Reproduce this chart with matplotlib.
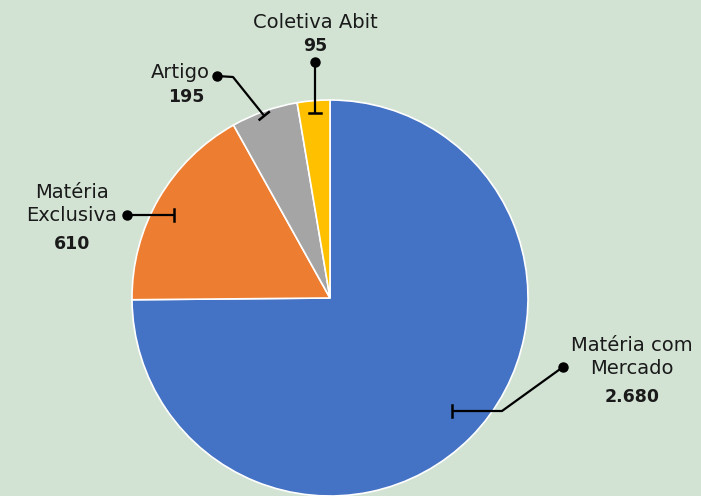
import matplotlib.pyplot as plt
import numpy as np

# Data
categories = ['Matéria com\nMercado', 'Matéria\nExclusiva', 'Artigo', 'Coletiva Abit']
values = [2680, 610, 195, 95]
value_labels = ['2.680', '610', '195', '95']
colors = ['#4472C4', '#ED7D31', '#A5A5A5', '#FFC000']

plt.rcParams['font.family'] = 'DejaVu Sans'

W, H = 701, 496
cx, cy, R = 330, 298, 198  # pie centre / radius in pixels


def px(x, y):
    # pixel position -> data units (pie radius = 1)
    return (x - cx) / R, (cy - y) / R


fig = plt.figure(figsize=(W / 100, H / 100), dpi=100)
fig.patch.set_facecolor('#D2E3D4')
ax = fig.add_axes([0, 0, 1, 1])
ax.set_facecolor('#D2E3D4')

wedges, _ = ax.pie(values, startangle=90, counterclock=False, colors=colors,
                   radius=1, center=(0, 0),
                   wedgeprops=dict(edgecolor='white', linewidth=1.2))

x0, y0 = px(0, H)
x1, y1 = px(W, 0)
ax.set_xlim(x0, x1)
ax.set_ylim(y0, y1)
ax.set_aspect('equal')
ax.axis('off')

# leader lines: angle offset from wedge middle, radius fraction, bend/dot (pixels)
leaders = [
    dict(da=1.95, r=0.84, bend=(502, None), dot=(563, 367)),
    dict(da=2.1, r=0.892, bend=None, dot=(127, None)),
    dict(da=0.5, r=0.978, bend=(233, 77), dot=(217, 76)),
    dict(da=-0.2, r=0.937, bend=None, dot=(None, 62)),
]

# label placement: (name xy, name align, value xy)
label_pos = [
    ((632, 357), 'center', (632, 397)),
    ((72, 204), 'center', (72, 244)),
    ((210, 73), 'right', (186, 97)),
    ((315, 22), 'center', (315, 46)),
]


def resolve(p, sx, sy):
    # None coordinate -> keep the start point's value (straight segment)
    x = sx if p[0] is None else px(p[0], 0)[0]
    y = sy if p[1] is None else px(0, p[1])[1]
    return x, y


for w, ld, (nxy, ha, vxy), name, val in zip(wedges, leaders, label_pos,
                                             categories, value_labels):
    ang = np.deg2rad((w.theta1 + w.theta2) / 2 + ld['da'])
    sx, sy = ld['r'] * np.cos(ang), ld['r'] * np.sin(ang)
    pts = [(sx, sy)]
    if ld['bend'] is not None:
        pts.append(resolve(ld['bend'], sx, sy))
    pts.append(resolve(ld['dot'], sx, sy))
    xs, ys = zip(*pts)
    ax.plot(xs, ys, color='black', lw=1.6, solid_capstyle='butt')
    ax.plot(xs[-1], ys[-1], 'o', color='black', ms=6.5)
    # perpendicular end bar
    dx, dy = xs[1] - xs[0], ys[1] - ys[0]
    n = np.hypot(dx, dy)
    ux, uy = -dy / n * 0.03, dx / n * 0.03
    ax.plot([sx - ux, sx + ux], [sy - uy, sy + uy], color='black', lw=1.8)

    tx, ty = px(*nxy)
    ax.text(tx, ty, name, ha=ha, va='center', fontsize=14,
            color='#1a1a1a', linespacing=1.3, multialignment='center')
    vx, vy = px(*vxy)
    ax.text(vx, vy, val, ha='center', va='center', fontsize=12.5,
            fontweight='bold', color='#1a1a1a')

plt.savefig('out.png', dpi=100, facecolor=fig.get_facecolor())
